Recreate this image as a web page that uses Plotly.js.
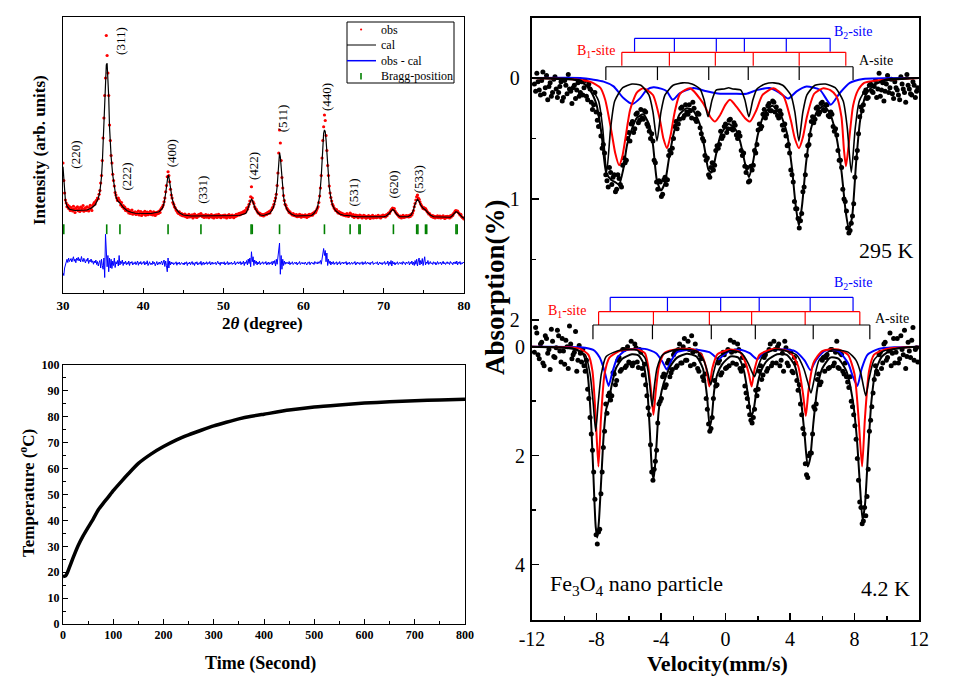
<!DOCTYPE html>
<html><head><meta charset="utf-8">
<script src="https://cdn.plot.ly/plotly-3.0.1.min.js"></script>
<style>html,body{margin:0;padding:0;background:#fff;}#chart{width:960px;height:690px;}</style>
</head><body><div id="chart"></div>
<script>
// ---------- XRD (2theta from 30 to 80, step 0.1) ----------
const xrdStart = 30, xrdStep = 0.1;
const xrdObs = [
520,450,400,372,360,345,352,338,346,330,
342,335,328,347,336,322,340,333,345,329,
338,326,344,331,339,350,327,336,341,330,
345,333,328,342,351,337,330,348,355,362,
356,368,372,380,377,395,410,440,470,530,
620,700,790,860,1030,950,880,790,672,610,
550,520,475,450,428,402,392,380,370,380,
372,366,352,362,345,350,338,344,330,336,
328,335,320,330,318,326,332,315,322,318,
325,314,322,316,328,312,320,326,310,318,
322,315,327,311,319,324,313,321,316,327,
314,320,312,325,318,310,322,316,324,318,
328,322,335,340,345,352,365,380,405,430,
465,485,470,445,415,392,380,362,355,345,
340,332,328,322,318,325,315,312,318,309,
314,308,316,305,311,302,309,315,304,310,
306,313,300,309,316,304,310,302,312,307,
315,309,318,312,305,311,302,309,314,303,
308,312,301,310,306,314,303,309,300,311,
305,313,302,308,315,304,310,301,309,306,
311,303,312,306,300,310,305,314,302,309,
304,312,307,301,310,306,315,309,313,318,
312,320,315,322,318,326,320,330,325,340,
335,345,355,368,385,425,380,365,358,345,
338,335,328,322,318,320,312,316,310,314,
308,315,312,318,314,322,318,326,320,330,
333,340,345,355,368,380,395,430,480,560,
652,600,530,462,420,390,370,355,350,340,
335,330,322,325,318,316,312,318,310,313,
308,314,305,311,306,315,309,303,312,307,
310,305,313,308,302,311,306,315,309,312,
316,311,320,318,325,322,330,338,345,362,
388,420,470,540,610,665,712,690,630,570,
510,470,428,400,382,368,355,348,340,336,
330,334,325,320,326,318,322,314,319,312,
316,310,314,308,318,312,306,313,320,316,
310,306,314,302,308,312,305,310,301,307,
312,304,309,300,306,311,303,308,299,306,
302,310,305,298,307,303,311,300,306,302,
308,301,305,311,303,307,300,309,305,312,
306,310,304,313,309,316,320,318,326,332,
336,340,334,338,328,322,318,314,310,306,
303,308,300,306,311,302,307,304,310,306,
309,304,311,306,315,312,320,330,345,358,
372,385,392,380,375,365,356,350,344,338,
342,335,338,332,326,322,316,318,312,308,
305,310,302,307,300,306,303,309,301,304,
308,300,305,302,309,303,298,306,301,307,
303,306,300,309,304,312,310,318,322,328,
330,326,328,322,318,312,315,306,302,300,
296];
const xrdDiff = [
80,70,100,115,128,135,122,140,126,132,
138,124,133,145,127,136,121,140,131,143,
128,137,124,146,132,125,139,130,120,134,
127,140,118,131,125,136,122,129,115,128,
120,132,114,126,108,122,130,100,135,110,
95,140,62,235,180,105,150,85,140,100,
135,98,128,110,140,102,125,116,130,108,
150,112,127,118,132,110,124,117,128,113,
122,115,128,110,124,119,126,112,121,117,
125,113,120,128,111,123,116,126,114,121,
118,127,112,122,116,129,110,121,125,114,
120,113,127,117,123,109,121,126,112,119,
124,115,121,128,112,120,132,106,128,110,
85,140,100,128,112,124,116,122,113,120,
118,125,111,121,116,124,113,119,122,115,
120,112,123,117,125,110,121,116,124,113,
119,126,114,121,110,123,117,125,112,120,
122,115,127,111,119,124,113,121,116,125,
114,122,117,126,112,120,124,115,121,118,
123,113,119,127,116,121,111,124,117,122,
116,125,112,120,118,126,113,122,115,121,
124,114,120,117,127,112,121,118,125,116,
120,126,113,122,117,128,110,124,118,130,
112,136,118,140,105,165,125,145,110,132,
118,128,112,124,116,127,113,121,118,125,
115,122,118,126,112,120,124,114,122,117,
125,112,128,118,130,108,135,115,140,160,
200,75,150,95,135,110,128,115,124,118,
122,116,126,113,121,118,125,114,120,123,
117,124,112,121,118,126,114,120,123,116,
121,115,124,118,112,122,119,125,113,120,
124,117,121,114,126,119,122,116,125,118,
122,130,115,140,175,178,150,170,125,160,
110,135,118,128,112,124,117,126,114,121,
119,125,112,122,117,126,113,121,118,124,
116,122,119,126,112,121,117,124,114,120,
123,115,121,118,126,112,120,124,117,122,
114,121,118,125,113,122,117,126,115,120,
124,116,121,113,123,119,126,114,120,117,
122,118,125,112,120,124,116,121,113,122,
118,126,114,121,117,128,110,124,115,130,
108,127,116,123,112,121,118,125,114,120,
123,117,122,114,126,119,121,113,124,118,
120,126,112,123,117,128,113,124,110,130,
115,135,108,128,140,112,130,116,138,110,
126,145,112,124,118,130,114,122,126,117,
121,114,125,118,123,112,120,126,115,122,
118,124,113,121,127,116,122,114,120,125,
117,122,114,126,119,121,113,124,118,125,
116,128,112,123,118,126,114,121,117,124,
120];
const calcX = [30.0,30.1,30.2,30.3,30.5,30.8,31.5,33.0,33.5,34.0,
34.2,34.4,34.6,34.7,34.8,34.9,35.0,35.1,35.2,35.3,
35.4,35.5,35.6,35.7,35.8,35.9,36.0,36.2,36.4,36.6,
36.8,37.0,37.2,37.5,38.0,38.5,39.0,41.0,42.0,42.4,
42.6,42.8,42.9,43.0,43.1,43.2,43.3,43.4,43.6,43.8,
44.0,44.5,45.0,46.0,52.0,52.8,53.0,53.2,53.4,53.5,
53.6,53.8,54.0,54.3,54.6,55.0,55.8,56.2,56.5,56.7,
56.8,56.9,57.0,57.1,57.2,57.3,57.5,57.7,58.0,58.5,
59.0,61.0,61.3,61.7,62.0,62.2,62.3,62.4,62.5,62.6,
62.7,62.8,62.9,63.0,63.2,63.4,63.6,63.8,64.0,64.5,
65.0,65.8,66.5,70.0,70.3,70.6,70.9,71.1,71.3,71.6,
72.0,73.0,73.4,73.7,73.9,74.1,74.2,74.4,74.6,74.9,
75.2,75.5,75.8,76.2,78.3,78.5,78.8,79.0,79.2,79.5,
79.8,80.0];
const calcY = [505,440,395,370,347,335,330,332,339,352,
365,379,405,432,465,519,612,692,772,852,
912,919,872,785,665,599,545,472,419,385,
369,364,356,343,329,323,319,318,325,339,
359,399,425,459,472,465,439,412,379,356,
339,321,312,308,310,319,332,352,372,375,
372,352,335,321,312,310,319,339,372,425,
479,539,561,545,499,445,385,352,329,315,
308,310,319,339,385,465,532,599,639,652,
645,612,559,505,425,379,352,339,329,316,
311,309,305,305,308,316,329,335,329,315,
305,305,312,332,356,372,375,367,352,339,
332,321,312,305,303,308,321,325,323,312,
303,299];
const braggPos = [30.1,35.45,37.1,43.1,47.2,53.45,53.6,57.0,62.6,65.8,66.9,67.05,71.2,74.1,74.25,75.2,75.35,79.0,79.15];
const hklLabels = ['(220)','(311)','(222)','(400)','(331)','(422)','(511)','(440)','(531)','(620)','(533)'];
const hklX = [31.45,37.1,37.8,43.5,47.3,53.7,57.35,62.8,66.1,71.1,74.3];
const hklY = [552,1008,464,560,412,508,700,784,400,432,456];
const legendNames = ['obs','cal','obs - cal','Bragg-position'];

// ---------- Heating curve ----------
const timeS = [0,5,8,12,20,30,40,50,60,70,80,90,100,115,130,150,175,200,225,250,275,300,325,350,375,400,450,500,550,600,650,700,750,800];
const tempC = [18.3,18.6,19.5,21.5,25.5,30.2,34.0,37.3,40.5,44.0,46.6,49.0,51.5,54.8,58.0,62.0,65.6,68.5,71.0,73.0,74.8,76.5,77.9,79.2,80.2,81.0,82.6,83.8,84.6,85.3,85.8,86.2,86.5,86.8];

// ---------- Mossbauer 295 K (two interleaved velocity grids, step 0.15) ----------
const velStartA = -11.85, velStartB = -11.775, velStep = 0.15;
const dots295 = [
0.05,-0.04,0.10,0.02,0.13,-0.02,0.07,0.15,0.01,0.09,
0.12,0.03,0.16,0.06,-0.03,0.11,0.08,0.17,0.04,0.12,
0.14,0.02,0.18,0.09,0.26,0.12,0.35,0.30,0.58,0.62,
0.85,0.74,0.88,0.80,0.92,0.83,0.90,0.66,0.68,0.45,
0.38,0.45,0.30,0.37,0.26,0.34,0.28,0.40,0.50,0.52,
0.70,0.92,0.86,0.96,0.82,0.84,0.60,0.58,0.40,0.42,
0.34,0.24,0.31,0.28,0.22,0.33,0.25,0.36,0.30,0.46,
0.52,0.68,0.80,0.74,0.76,0.60,0.58,0.44,0.48,0.38,
0.42,0.34,0.43,0.39,0.50,0.48,0.64,0.73,0.74,0.85,
0.76,0.60,0.55,0.38,0.40,0.26,0.30,0.21,0.27,0.20,
0.24,0.33,0.30,0.43,0.48,0.55,0.76,0.86,1.08,1.16,
1.18,0.94,0.80,0.56,0.47,0.32,0.34,0.24,0.28,0.20,
0.27,0.22,0.32,0.30,0.44,0.47,0.68,0.74,1.00,1.10,
1.28,1.20,1.04,0.66,0.46,0.24,0.22,0.10,0.16,0.05,
0.12,0.02,0.09,0.15,0.04,0.11,-0.02,0.08,0.13,0.03,
0.10,0.18,0.05,0.12,-0.03,0.09,0.14,0.06,0.11];
const dots295b = [
0.11,0.03,0.14,-0.05,0.08,0.18,0.04,0.12,-0.01,0.16,
0.07,0.19,0.02,0.13,0.09,0.21,0.06,0.10,0.15,0.03,
0.08,0.15,0.05,0.20,0.22,0.28,0.40,0.48,0.55,0.80,
0.90,0.78,0.82,0.94,0.80,0.88,0.72,0.70,0.50,0.52,
0.36,0.42,0.29,0.35,0.33,0.27,0.38,0.44,0.46,0.68,
0.86,0.85,0.98,0.84,0.88,0.64,0.62,0.50,0.36,0.38,
0.25,0.33,0.22,0.30,0.27,0.20,0.34,0.29,0.41,0.50,
0.64,0.66,0.82,0.70,0.72,0.56,0.55,0.50,0.40,0.45,
0.35,0.42,0.37,0.47,0.45,0.60,0.62,0.78,0.86,0.73,
0.72,0.62,0.43,0.42,0.30,0.33,0.23,0.27,0.19,0.28,
0.31,0.27,0.39,0.38,0.56,0.62,0.80,1.02,1.08,1.24,
1.12,0.90,0.64,0.55,0.36,0.37,0.25,0.30,0.21,0.26,
0.22,0.31,0.28,0.40,0.42,0.60,0.68,0.92,1.02,1.24,
1.26,1.14,0.82,0.60,0.32,0.27,0.12,0.17,0.06,0.11,
0.07,0.16,-0.04,0.10,0.19,0.05,0.12,0.01,0.17,0.08,
0.14,-0.01,0.09,0.20,0.06,0.13,0.03,0.16,0.08];
const fit295V = [-12,-10,-9,-8.4,-8.0,-7.7,-7.4,-7.1,-6.85,-6.6,-6.35,-6.1,-5.8,-5.5,-5.1,-4.75,-4.5,-4.25,-4.0,-3.75,-3.5,-3.2,-2.85,-2.4,-2.0,-1.6,-1.3,-1.05,-0.85,-0.6,-0.3,0.2,0.6,0.9,1.2,1.45,1.7,2.0,2.4,2.9,3.4,3.8,4.1,4.35,4.55,4.75,5.0,5.3,5.7,6.1,6.5,6.9,7.2,7.45,7.65,7.85,8.1,8.35,8.7,9.2,10,12];
const fit295 = [0,0.01,0.02,0.1,0.22,0.45,0.78,0.84,0.86,0.88,0.76,0.55,0.42,0.33,0.3,0.38,0.55,0.85,0.93,0.86,0.66,0.45,0.3,0.25,0.27,0.38,0.58,0.76,0.78,0.64,0.47,0.38,0.42,0.52,0.7,0.82,0.7,0.47,0.3,0.23,0.3,0.45,0.72,1.05,1.22,1.05,0.7,0.42,0.27,0.23,0.3,0.5,0.78,1.1,1.25,1.15,0.7,0.35,0.14,0.06,0.02,0];
const a295V = [-12,-9.5,-8.37,-7.87,-7.62,-7.37,-7.12,-6.87,-6.37,-5.8,-5.25,-4.75,-4.5,-4.25,-4.0,-3.75,-3.25,-2.65,-2.08,-1.58,-1.33,-1.08,-0.83,-0.58,-0.08,0.2,0.45,0.95,1.2,1.45,1.7,1.95,2.45,3.0,3.55,4.05,4.3,4.55,4.8,5.05,5.55,6.2,6.8,7.3,7.55,7.8,8.05,8.3,8.8,10,12];
const a295 = [0,0.01,0.08,0.19,0.41,0.78,0.41,0.19,0.08,0.05,0.06,0.14,0.28,0.52,0.28,0.14,0.06,0.04,0.05,0.09,0.18,0.32,0.18,0.1,0.09,0.08,0.09,0.1,0.18,0.32,0.18,0.09,0.05,0.04,0.06,0.14,0.28,0.52,0.28,0.14,0.06,0.05,0.08,0.19,0.41,0.78,0.41,0.19,0.08,0.01,0];
const b1295V = [-12,-9.5,-8.4,-7.77,-7.46,-7.05,-6.84,-6.6,-6.4,-6.22,-5.91,-5.5,-5.1,-4.5,-4.06,-3.85,-3.62,-3.4,-3.15,-2.82,-2.2,-1.38,-0.95,-0.65,-0.35,0.0,0.28,0.7,1.2,1.52,1.9,2.3,2.97,3.6,4.05,4.3,4.56,4.8,5.05,5.5,6.07,6.5,6.88,7.19,7.35,7.47,7.6,7.71,7.91,8.22,8.6,9.4,12];
const b1295 = [0,0.01,0.03,0.08,0.18,0.46,0.62,0.72,0.65,0.51,0.26,0.12,0.085,0.14,0.35,0.5,0.58,0.47,0.28,0.13,0.085,0.21,0.32,0.36,0.31,0.22,0.18,0.24,0.33,0.36,0.27,0.14,0.085,0.15,0.35,0.5,0.58,0.49,0.32,0.13,0.085,0.1,0.15,0.32,0.6,0.73,0.6,0.46,0.23,0.1,0.04,0.02,0];
const b2295V = [-12,-9.0,-8.18,-7.56,-6.94,-6.33,-5.77,-5.29,-4.88,-4.47,-3.95,-3.64,-3.27,-2.82,-1.99,-1.17,-0.34,0.48,1.31,1.93,2.75,3.37,3.89,4.41,5.02,5.85,6.53,7.09,7.71,8.53,12];
const b2295 = [0,0,0.014,0.03,0.069,0.166,0.215,0.166,0.097,0.077,0.09,0.11,0.18,0.124,0.083,0.11,0.13,0.13,0.13,0.1,0.083,0.124,0.17,0.11,0.07,0.097,0.22,0.124,0.041,0.008,0];
const sticksA295 = [-7.42,-4.22,-1.04,1.41,4.57,7.91];
const sticksB1295 = [-6.43,-3.48,-0.63,1.72,4.57,7.46];
const sticksB2295 = [-5.64,-3.17,-0.57,1.17,3.77,6.49];

// ---------- Mossbauer 4.2 K ----------
const dots42 = [
0.10,-0.25,0.22,-0.08,0.35,-0.15,0.05,-0.32,0.18,0.02,
-0.20,0.28,0.08,-0.12,0.40,-0.05,0.15,-0.28,0.25,0.12,
0.05,0.45,0.78,1.30,1.90,2.80,3.62,3.35,2.30,1.55,
1.22,0.85,0.90,0.50,0.62,0.20,0.42,0.05,0.35,0.28,
-0.10,0.30,0.02,0.38,0.10,0.52,0.70,1.12,1.80,2.45,
2.10,1.40,1.00,0.55,0.75,0.30,0.55,0.42,0.10,0.35,
-0.05,0.30,-0.15,0.25,0.05,-0.20,0.32,0.08,0.45,0.22,
0.62,0.95,1.42,1.50,0.95,0.72,0.30,0.52,0.10,0.40,
0.05,-0.12,0.30,0.08,-0.05,0.40,0.20,0.72,0.95,1.25,
1.40,1.15,0.90,0.45,0.60,0.20,0.45,0.05,0.35,-0.10,
0.30,-0.05,0.25,0.45,0.02,0.35,0.10,0.48,0.30,0.80,
1.05,1.50,2.15,2.40,1.95,1.60,1.15,0.60,0.70,0.25,
0.45,0.15,0.38,0.05,0.30,-0.10,0.40,0.15,0.50,0.55,
0.75,1.00,1.25,1.70,2.45,2.95,3.20,3.10,2.25,1.35,
0.85,0.35,0.50,0.10,0.30,-0.08,0.20,-0.25,0.12,0.30,
-0.15,0.22,0.05,-0.30,0.18,0.08,-0.12,0.25,0.02];
const dots42b = [
-0.35,0.15,-0.05,0.30,-0.20,0.12,0.42,-0.10,0.20,-0.30,
0.08,-0.15,0.32,0.00,-0.38,0.22,0.10,0.45,-0.02,0.28,
0.35,0.25,0.95,1.60,2.30,3.45,3.40,2.70,1.85,1.05,
0.90,0.98,0.48,0.70,0.25,0.45,0.05,0.38,0.00,0.30,
0.35,-0.05,0.28,0.05,0.40,0.32,0.90,1.25,2.30,2.25,
1.90,1.05,0.95,0.50,0.70,0.25,0.48,0.15,0.38,0.05,
0.30,0.00,0.25,-0.10,0.35,0.10,-0.05,0.40,0.15,0.55,
0.50,1.15,1.55,1.30,0.62,0.70,0.25,0.48,0.15,0.38,
0.35,0.10,-0.08,0.32,0.05,0.45,0.35,0.85,1.10,1.35,
1.30,0.80,0.78,0.35,0.52,0.15,0.40,-0.05,0.30,0.05,
0.00,0.35,0.12,-0.10,0.30,0.08,0.45,0.20,0.62,0.70,
1.25,1.60,2.35,2.00,1.95,1.10,1.05,0.50,0.65,0.20,
0.20,0.40,0.05,0.35,0.10,0.38,0.12,0.45,0.30,0.65,
0.55,1.10,1.45,2.05,2.85,3.25,2.95,2.75,1.55,1.10,
0.60,0.45,0.15,0.40,-0.05,0.25,0.08,0.35,-0.15,0.10,
0.30,-0.20,0.15,0.40,-0.08,0.20,-0.35,0.05,0.28];
const fit42V = [-12,-10,-9.2,-8.8,-8.55,-8.35,-8.2,-8.05,-7.95,-7.85,-7.7,-7.55,-7.4,-7.25,-7.05,-6.8,-6.4,-5.8,-5.4,-5.1,-4.85,-4.7,-4.55,-4.45,-4.3,-4.15,-3.95,-3.7,-3.4,-3.0,-2.4,-1.8,-1.4,-1.15,-0.98,-0.85,-0.7,-0.5,-0.2,0.3,0.8,1.15,1.4,1.6,1.75,1.95,2.2,2.6,3.2,3.8,4.3,4.65,4.9,5.1,5.25,5.45,5.7,6.0,6.5,7.0,7.5,7.9,8.15,8.35,8.5,8.65,8.85,9.05,9.3,9.7,10.3,11,12];
const fit42 = [0,0.02,0.06,0.15,0.5,1.3,2.3,3.3,3.5,3.2,2.4,1.6,1.15,1.0,0.7,0.4,0.22,0.14,0.16,0.3,0.8,1.5,2.3,2.42,1.9,1.2,0.8,0.55,0.35,0.2,0.13,0.18,0.4,0.9,1.47,1.3,0.8,0.5,0.32,0.18,0.2,0.45,0.9,1.28,1.15,0.75,0.45,0.25,0.14,0.15,0.35,0.9,1.6,2.2,2.05,1.4,0.75,0.4,0.2,0.22,0.45,1.0,1.7,2.6,3.18,2.9,1.9,1.0,0.45,0.18,0.06,0.02,0];
const a42V = [-12,-9.5,-8.7,-8.4,-8.2,-8.05,-7.9,-7.7,-7.4,-6.5,-5.5,-5.0,-4.8,-4.68,-4.55,-4.42,-4.25,-3.9,-3.0,-1.8,-1.35,-1.1,-0.92,-0.72,-0.45,0.3,1.0,1.4,1.62,1.8,2.0,2.35,3.2,4.4,4.85,5.1,5.3,5.5,5.8,6.6,7.6,8.1,8.4,8.55,8.7,8.9,9.2,9.8,11,12];
const a42 = [0,0.03,0.15,0.5,1.05,1.55,1.05,0.5,0.18,0.06,0.06,0.2,0.45,0.75,1.1,0.75,0.4,0.15,0.05,0.08,0.25,0.48,0.7,0.45,0.2,0.07,0.12,0.3,0.45,0.55,0.38,0.15,0.05,0.15,0.4,0.65,0.85,0.6,0.25,0.06,0.1,0.25,0.5,0.72,0.9,0.6,0.25,0.08,0.02,0];
const b142V = [-12,-10,-9,-8.5,-8.25,-8.05,-7.88,-7.72,-7.5,-7.2,-6.5,-5.5,-5.0,-4.8,-4.62,-4.47,-4.32,-4.12,-3.8,-3.0,-2.0,-1.5,-1.2,-1.0,-0.82,-0.5,0.3,0.9,1.25,1.45,1.62,1.8,2.1,3.0,4.0,4.5,4.8,4.98,5.15,5.45,6.0,7.0,7.6,8.0,8.25,8.47,8.65,8.9,9.2,10,12];
const b142 = [0,0.01,0.04,0.15,0.45,1.3,2.2,1.3,0.5,0.2,0.07,0.05,0.12,0.35,0.8,1.25,0.8,0.35,0.12,0.04,0.05,0.14,0.38,0.73,0.4,0.14,0.05,0.1,0.3,0.5,0.73,0.42,0.15,0.04,0.1,0.35,0.85,1.27,0.8,0.3,0.08,0.05,0.15,0.5,1.3,2.2,1.3,0.45,0.15,0.04,0];
const b242V = [-12,-9,-8.2,-7.8,-7.5,-7.25,-7.0,-6.7,-6.2,-5.0,-4.3,-3.9,-3.64,-3.35,-3.0,-2.0,-1.0,-0.7,-0.42,-0.15,0.3,1.0,1.5,1.99,2.35,3.0,4.3,4.9,5.27,5.6,6.2,7.0,7.6,7.9,8.18,8.45,8.8,9.5,10.5,12];
const b242 = [0,0.01,0.06,0.2,0.45,0.72,0.45,0.2,0.07,0.04,0.12,0.28,0.42,0.25,0.1,0.05,0.1,0.17,0.23,0.16,0.07,0.06,0.12,0.23,0.12,0.05,0.08,0.25,0.43,0.25,0.07,0.08,0.3,0.55,0.72,0.4,0.15,0.04,0.01,0];
const sticksA42 = [-8.22,-4.53,-0.88,1.85,5.44,8.95];
const sticksB142 = [-7.87,-4.47,-1.0,1.62,4.94,8.33];
const sticksB242 = [-7.15,-3.6,-0.3,2.09,5.25,7.91];

const velTicks = [-12,-8,-4,0,4,8,12];
const velTickText = ['-12','-8','-4','0','4','8','12'];

// ---------- build ----------
const SERIF = 'Liberation Serif';
const BLUE = '#0000ff', RED = '#ff0000', GREEN = '#008000';
const W = 960, H = 690;
const px = v => v / W, py = v => 1 - v / H;

function sticks(pos, yBar, yEnd, color, yaxis) {
  const xs = [pos[0], pos[pos.length - 1], null], ys = [yBar, yBar, null];
  pos.forEach(p => { xs.push(p, p, null); ys.push(yBar, yEnd, null); });
  return {type:'scatter', mode:'lines', x:xs, y:ys, xaxis:'x3', yaxis:yaxis,
    line:{color:color, width:1.2}, hoverinfo:'skip'};
}
function curve(x, y, color, width, yaxis) {
  return {type:'scatter', mode:'lines', x:x, y:y, xaxis:'x3', yaxis:yaxis,
    line:{color:color, width:width, shape:'spline', smoothing:0.6}};
}
function dots(x0, y, yaxis) {
  return {type:'scatter', mode:'markers', x0:x0, dx:velStep, y:y, xaxis:'x3', yaxis:yaxis,
    marker:{color:'black', size:5}};
}

const traces = [
  {type:'scatter', mode:'markers', name:legendNames[0], x0:xrdStart, dx:xrdStep, y:xrdObs, xaxis:'x', yaxis:'y',
   marker:{color:RED, size:3.2}},
  {type:'scatter', mode:'lines', name:legendNames[1], x:calcX, y:calcY, xaxis:'x', yaxis:'y',
   line:{color:'black', width:1.2}},
  {type:'scatter', mode:'lines', name:legendNames[2], x0:xrdStart, dx:xrdStep, y:xrdDiff, xaxis:'x', yaxis:'y',
   line:{color:BLUE, width:1}},
  {type:'scatter', mode:'markers', name:legendNames[3], x:braggPos, y:braggPos.map(() => 255), xaxis:'x', yaxis:'y',
   marker:{symbol:'line-ns', size:7, color:GREEN, line:{color:GREEN, width:1.6}}},
  {type:'scatter', mode:'lines', x:timeS, y:tempC, xaxis:'x2', yaxis:'y2',
   line:{color:'black', width:3.5, shape:'spline', smoothing:0.5}},
  // 295 K
  dots(velStartA, dots295, 'y3'),
  dots(velStartB, dots295b, 'y3'),
  curve(b2295V, b2295, BLUE, 2, 'y3'),
  curve(b1295V, b1295, RED, 2, 'y3'),
  curve(a295V, a295, 'black', 1.6, 'y3'),
  curve(fit295V, fit295, 'black', 2, 'y3'),
  sticks(sticksB2295, -0.328, -0.217, BLUE, 'y3'),
  sticks(sticksB1295, -0.212, -0.102, RED, 'y3'),
  sticks(sticksA295, -0.093, 0.017, 'black', 'y3'),
  // 4.2 K
  dots(velStartA, dots42, 'y4'),
  dots(velStartB, dots42b, 'y4'),
  curve(b242V, b242, BLUE, 2, 'y4'),
  curve(b142V, b142, RED, 2, 'y4'),
  curve(a42V, a42, 'black', 1.6, 'y4'),
  curve(fit42V, fit42, 'black', 2, 'y4'),
  sticks(sticksB242, -0.906, -0.642, BLUE, 'y4'),
  sticks(sticksB142, -0.642, -0.398, RED, 'y4'),
  sticks(sticksA42, -0.398, -0.136, 'black', 'y4')
];

const annotations = [];
function ann(text, x, y, size, opts) {
  annotations.push(Object.assign({text:text, xref:'paper', yref:'paper', x:px(x), y:py(y),
    showarrow:false, xanchor:'center', yanchor:'middle',
    font:{family:SERIF, size:size, color:'black'}}, opts || {}));
}
// XRD peak labels
hklLabels.forEach((t, i) => annotations.push({text:t, xref:'x', yref:'y', x:hklX[i], y:hklY[i],
  showarrow:false, textangle:-90, font:{family:SERIF, size:13, color:'black'}}));
ann('<b>Intensity (arb. units)</b>', 40, 150, 17, {textangle:-90});
ann('<b>2<i>θ</i> (degree)</b>', 262, 324, 17);
ann('<b>Temperature (<sup>o</sup>C)</b>', 27, 493, 17, {textangle:-90});
ann('<b>Time (Second)</b>', 260, 663, 18);
ann('B<sub>2</sub>-site', 853, 32, 14, {font:{family:SERIF, size:14, color:BLUE}});
ann('B<sub>1</sub>-site', 596, 51, 14, {font:{family:SERIF, size:14, color:RED}});
ann('A-site', 876, 61, 14);
ann('295 K', 886, 250, 22);
ann('B<sub>2</sub>-site', 853, 284, 14, {font:{family:SERIF, size:14, color:BLUE}});
ann('B<sub>1</sub>-site', 567, 311, 14, {font:{family:SERIF, size:14, color:RED}});
ann('A-site', 892, 319, 14);
ann('Fe<sub>3</sub>O<sub>4</sub> nano particle', 548, 585, 22, {xanchor:'left'});
ann('4.2 K', 885, 588, 22);
ann('<b>Absorption(%)</b>', 495, 287, 27, {textangle:-90});
ann('<b>Velocity(mm/s)</b>', 717, 663, 22);

// hand-drawn legend box for the XRD panel
const legRows = [29.5, 45, 60.7, 76.3];
legendNames.forEach((t, i) => ann(t, 379, legRows[i], 12, {xanchor:'left'}));
const shapes = [
  {type:'rect', xref:'paper', yref:'paper', x0:px(347), x1:px(454), y0:py(83), y1:py(22),
   line:{color:'black', width:1}, fillcolor:'white', layer:'below'},
  {type:'circle', xref:'paper', yref:'paper', x0:px(360), x1:px(362.2), y0:py(30.6), y1:py(28.4),
   line:{width:0}, fillcolor:RED},
  {type:'line', xref:'paper', yref:'paper', x0:px(347), x1:px(376), y0:py(45), y1:py(45),
   line:{color:'black', width:1}},
  {type:'line', xref:'paper', yref:'paper', x0:px(347), x1:px(376), y0:py(60.7), y1:py(60.7),
   line:{color:BLUE, width:1.5}},
  {type:'line', xref:'paper', yref:'paper', x0:px(361), x1:px(361), y0:py(73), y1:py(79.5),
   line:{color:GREEN, width:1.6}}
];

const frame = {showline:true, linecolor:'black', mirror:true, showgrid:false, zeroline:false};
const layout = {
  width:W, height:H, margin:{l:0, r:0, t:0, b:0},
  paper_bgcolor:'white', plot_bgcolor:'rgba(0,0,0,0)',
  showlegend:false,
  xaxis: Object.assign({}, frame, {domain:[px(63), px(464)], anchor:'y', range:[30, 80],
    tickmode:'linear', tick0:30, dtick:10, ticks:'inside', ticklen:5, tickcolor:'black', linewidth:1,
    minor:{dtick:5, ticks:'inside', ticklen:3, tickcolor:'black'},
    tickfont:{family:SERIF, size:13, color:'black', weight:'bold'}}),
  yaxis: Object.assign({}, frame, {domain:[py(293), py(17)], anchor:'x', range:[0, 1104],
    showticklabels:false, ticks:'', linewidth:1}),
  xaxis2: Object.assign({}, frame, {domain:[px(63), px(465)], anchor:'y2', range:[0, 800],
    tickmode:'linear', tick0:0, dtick:100, ticks:'inside', ticklen:5, tickcolor:'black', linewidth:1,
    minor:{dtick:50, ticks:'inside', ticklen:3, tickcolor:'black'},
    tickfont:{family:SERIF, size:12, color:'black', weight:'bold'}}),
  yaxis2: Object.assign({}, frame, {domain:[py(624), py(365)], anchor:'x2', range:[0, 100],
    tickmode:'linear', tick0:0, dtick:10, ticks:'inside', ticklen:5, tickcolor:'black', linewidth:1,
    minor:{dtick:5, ticks:'inside', ticklen:3, tickcolor:'black'},
    tickfont:{family:SERIF, size:12, color:'black', weight:'bold'}}),
  xaxis3: Object.assign({}, frame, {domain:[px(532), px(919)], anchor:'y3', range:[-12, 12],
    tickmode:'array', tickvals:velTicks, ticktext:velTickText, ticks:'inside', ticklen:7,
    tickwidth:1.5, tickcolor:'black', linewidth:2.2,
    minor:{tickmode:'linear', tick0:-12, dtick:2, ticks:'inside', ticklen:4, tickwidth:1.5, tickcolor:'black'},
    tickfont:{family:SERIF, size:20, color:'black'}}),
  yaxis3: Object.assign({}, frame, {domain:[py(620), py(18)], anchor:'x3', range:[4.479, -0.496],
    tickmode:'array', tickvals:[0, 1, 2], ticktext:['0', '1', '2'], ticks:'inside', ticklen:7,
    tickwidth:1.5, tickcolor:'black', linewidth:2.2, ticklabelstandoff:6,
    minor:{tickmode:'array', tickvals:[0.5, 1.5], ticks:'inside', ticklen:4, tickwidth:1.5, tickcolor:'black'},
    tickfont:{family:SERIF, size:20, color:'black'}}),
  yaxis4: {overlaying:'y3', anchor:'x3', side:'left', range:[5.015, -6.031],
    showline:false, showgrid:false, zeroline:false,
    tickmode:'array', tickvals:[0, 2, 4], ticktext:['0', '2', '4'], ticks:'inside', ticklen:7,
    tickwidth:1.5, tickcolor:'black', ticklabelstandoff:6,
    minor:{tickmode:'array', tickvals:[1, 3], ticks:'inside', ticklen:4, tickwidth:1.5, tickcolor:'black'},
    tickfont:{family:SERIF, size:20, color:'black'}},
  annotations: annotations,
  shapes: shapes
};

Plotly.newPlot('chart', traces, layout, {displayModeBar:false, staticPlot:true});
</script></body></html>
